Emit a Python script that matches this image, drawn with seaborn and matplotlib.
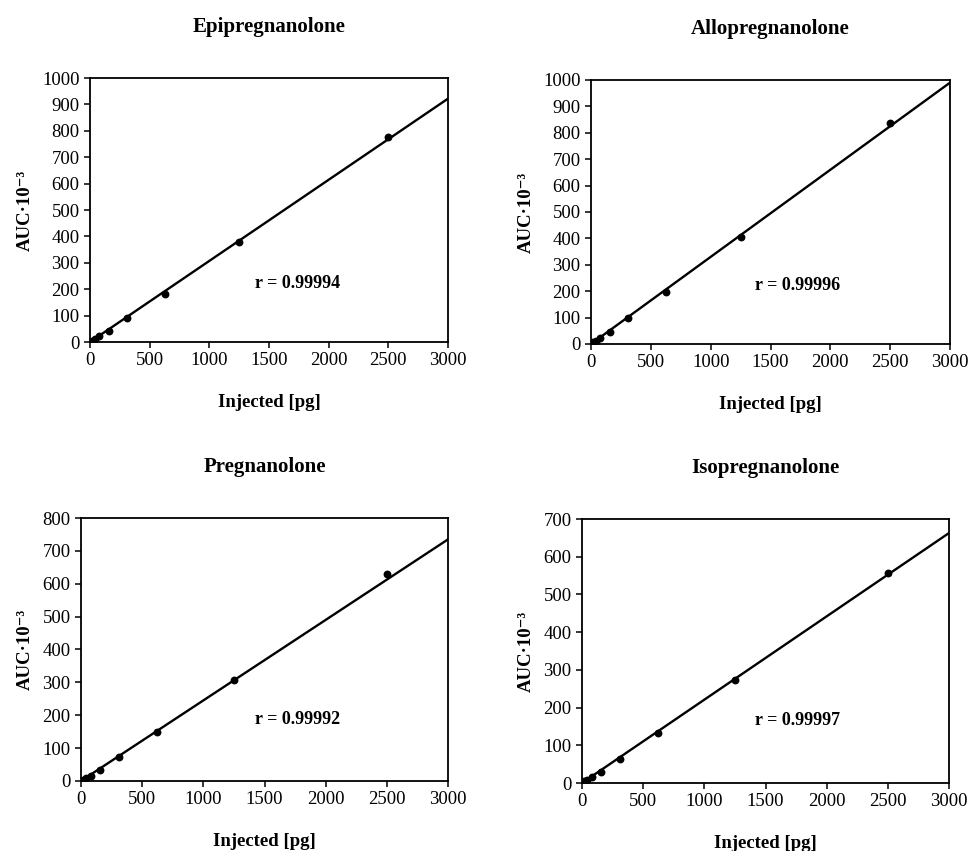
import seaborn as sns
import pandas as pd
import numpy as np
import matplotlib
matplotlib.use("Agg")
import matplotlib.pyplot as plt

# injected amounts [pg] and peak areas (AUC x 10^-3)
injected = [19.5, 39, 78, 156, 312.5, 625, 1250, 2500]
epi_auc = [5, 10, 22, 42, 90, 181, 377, 775]
allo_auc = [6, 12, 24, 47, 97, 197, 407, 837]
preg_auc = [4, 8, 16, 33, 73, 149, 306, 630]
iso_auc = [4, 7, 15, 30, 63, 132, 272, 556]

names = ["Epipregnanolone", "Allopregnanolone", "Pregnanolone", "Isopregnanolone"]
r_values = ["r = 0.99994", "r = 0.99996", "r = 0.99992", "r = 0.99997"]
y_max = [1000, 1000, 800, 700]
# calibration line as drawn: value at 0 pg and at 3000 pg
fit_x = [0, 3000]
fit_start = [0, 0, 0, 0]
fit_end = [922, 990, 735, 663]
r_pos = [(1740, 223), (1730, 223), (1770, 186), (1760, 167)]

sns.set_style("ticks")
plt.rcParams["font.family"] = ["Liberation Serif", "DejaVu Serif"]
plt.rcParams["text.color"] = "black"
plt.rcParams["axes.labelcolor"] = "black"
plt.rcParams["axes.edgecolor"] = "black"
plt.rcParams["axes.linewidth"] = 1.3
plt.rcParams["xtick.major.width"] = 1.1
plt.rcParams["ytick.major.width"] = 1.1
plt.rcParams["xtick.major.size"] = 4
plt.rcParams["ytick.major.size"] = 4

fig = plt.figure(figsize=(9.71, 8.51), dpi=100)
boxes = [
    [0.0927, 0.5981, 0.3687, 0.3102],
    [0.6087, 0.5958, 0.3697, 0.3102],
    [0.0834, 0.0823, 0.3780, 0.3090],
    [0.5994, 0.0799, 0.3780, 0.3102],
]

df = pd.DataFrame({"injected": injected, "Epipregnanolone": epi_auc,
                   "Allopregnanolone": allo_auc, "Pregnanolone": preg_auc,
                   "Isopregnanolone": iso_auc})

for i, name in enumerate(names):
    ax = fig.add_axes(boxes[i])
    sns.lineplot(x=fit_x, y=[fit_start[i], fit_end[i]], ax=ax, color="black",
                 linewidth=1.7)
    sns.scatterplot(data=df, x="injected", y=name, ax=ax, color="black",
                    s=32, linewidth=0, zorder=3)
    ax.set_xlim(0, 3000)
    ax.set_ylim(0, y_max[i])
    ax.set_xticks(np.arange(0, 3001, 500))
    ax.set_yticks(np.arange(0, y_max[i] + 1, 100))
    ax.tick_params(labelsize=13.5, colors="black")
    ax.set_title(name, fontsize=15, fontweight="bold", pad=33)
    ax.set_xlabel("Injected [pg]", fontsize=13.5, fontweight="bold", labelpad=18)
    ax.set_ylabel("AUC·10⁻³", fontsize=13.5, fontweight="bold", labelpad=6)
    ax.text(r_pos[i][0], r_pos[i][1], r_values[i], ha="center", va="center",
            fontsize=13, fontweight="bold")
    for s in ax.spines.values():
        s.set_visible(True)

fig.savefig("out.png", dpi=100)
